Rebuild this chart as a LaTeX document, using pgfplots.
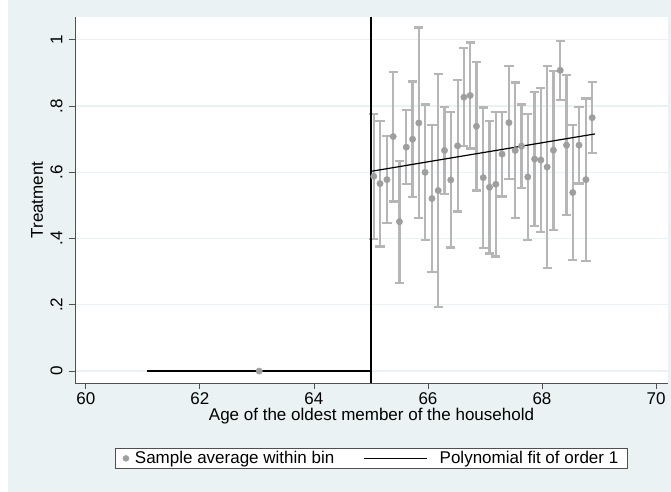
\documentclass[border=0pt]{standalone}
\usepackage{fontspec}
\setmainfont{Liberation Sans}
\usepackage{pgfplots}
\pgfplotsset{compat=1.18}
\usepackage{pgfplotstable}
\definecolor{bg}{RGB}{234,242,243}
\definecolor{ptgray}{RGB}{158,158,158}
\definecolor{bargray}{RGB}{182,182,182}
\definecolor{axgray}{RGB}{80,80,80}
\newcommand\f{\fontsize{17bp}{20bp}\selectfont}

\pgfplotstableread{
x y e
65.05 0.588 0.189
65.16 0.566 0.190
65.28 0.578 0.131
65.39 0.708 0.196
65.50 0.451 0.184
65.62 0.676 0.112
65.73 0.700 0.174
65.84 0.749 0.288
65.95 0.600 0.205
66.07 0.521 0.222
66.18 0.545 0.351
66.29 0.666 0.132
66.40 0.577 0.204
66.52 0.680 0.198
66.63 0.827 0.148
66.74 0.832 0.160
66.85 0.739 0.194
66.97 0.584 0.212
67.08 0.555 0.200
67.19 0.564 0.218
67.30 0.655 0.128
67.42 0.750 0.171
67.53 0.666 0.205
67.64 0.679 0.126
67.75 0.586 0.190
67.87 0.640 0.202
67.98 0.637 0.217
68.09 0.616 0.306
68.20 0.667 0.240
68.32 0.908 0.089
68.43 0.682 0.211
68.54 0.539 0.204
68.65 0.682 0.116
68.77 0.578 0.245
68.88 0.765 0.107
}\bins

\pgfplotstableread{
x y
63.04 0
}\leftbin

\begin{document}
\begin{tikzpicture}[x=1bp,y=1bp]
\path[use as bounding box] (0,0) rectangle (671,492);
\fill[white] (0,0) rectangle (671,492);
\fill[bg] (8,0) rectangle (671,492);
\begin{axis}[
  at={(75bp,109bp)}, anchor=south west,
  scale only axis, width=593bp, height=366bp,
  xmin=59.81, xmax=70.21, ymin=-0.036, ymax=1.069,
  axis background/.style={fill=white},
  axis x line*=bottom, axis y line*=left,
  axis line style={axgray, line width=0.8bp, -},
  tick align=outside, major tick length=6bp,
  tick style={axgray, line width=0.8bp},
  xtick={60,62,64,66,68,70}, xticklabels={60,62,64,66,68,70},
  ytick={0,0.2,0.4,0.6,0.8,1}, yticklabels={0,.2,.4,.6,.8,1},
  minor tick num=0,
  ymajorgrids, major grid style={bg, line width=1.3bp},
  xticklabel style={font=\f},
  yticklabel shift=3bp,
  yticklabel style={font=\f, rotate=90, anchor=south},
  every axis x label/.style={at={(rel axis cs:0.5,0)}, anchor=center, yshift=-33bp, font=\f},
  every axis y label/.style={at={(rel axis cs:0,0.5)}, anchor=center, xshift=-38bp, rotate=90, font=\f},
  xlabel={Age of the oldest member of the household},
  ylabel={Treatment},
  legend columns=2,
  legend cell align=left,
  legend style={at={(0.5,-0.206)}, anchor=center, draw=axgray, line width=0.6bp, fill=white, font=\f,
    /tikz/every even column/.append style={column sep=27bp}, inner xsep=7bp, inner ysep=1.5bp},
  clip=false,
]
\addplot[draw=none, mark=none, forget plot,
  error bars/.cd, y dir=both, y explicit,
  error bar style={bargray, line width=2.2bp},
  error mark options={rotate=90, bargray, mark size=4.6bp, line width=2.2bp}]
  table[x=x, y=y, y error=e] {\bins};
\addplot[only marks, mark=*, mark size=3.2bp, color=ptgray, mark options={draw=ptgray, fill=ptgray},
  legend image code/.code={\fill[ptgray] (4bp,0bp) circle (2.9bp); \fill[white, opacity=0] (10.5bp,0bp) circle (0.2bp);}]
  table[x=x, y=y] {\bins};
\addlegendentry{Sample average within bin}
\addplot[only marks, mark=*, mark size=3.2bp, color=ptgray, mark options={draw=ptgray, fill=ptgray}, forget plot]
  table[x=x, y=y] {\leftbin};
\addplot[black, line width=1.2bp, forget plot] coordinates {(61.08,0) (65,0)};
\addplot[black, line width=1.2bp,
  legend image code/.code={\draw[black, line width=1.2bp] (0bp,0bp) -- (63bp,0bp); \fill[white, opacity=0] (73bp,0bp) circle (0.2bp);}]
  coordinates {(65,0.603) (68.93,0.716)};
\addlegendentry{Polynomial fit of order 1}
\addplot[black, line width=1.2bp, forget plot] coordinates {(65,-0.036) (65,1.069)};
\end{axis}
\end{tikzpicture}
\end{document}
